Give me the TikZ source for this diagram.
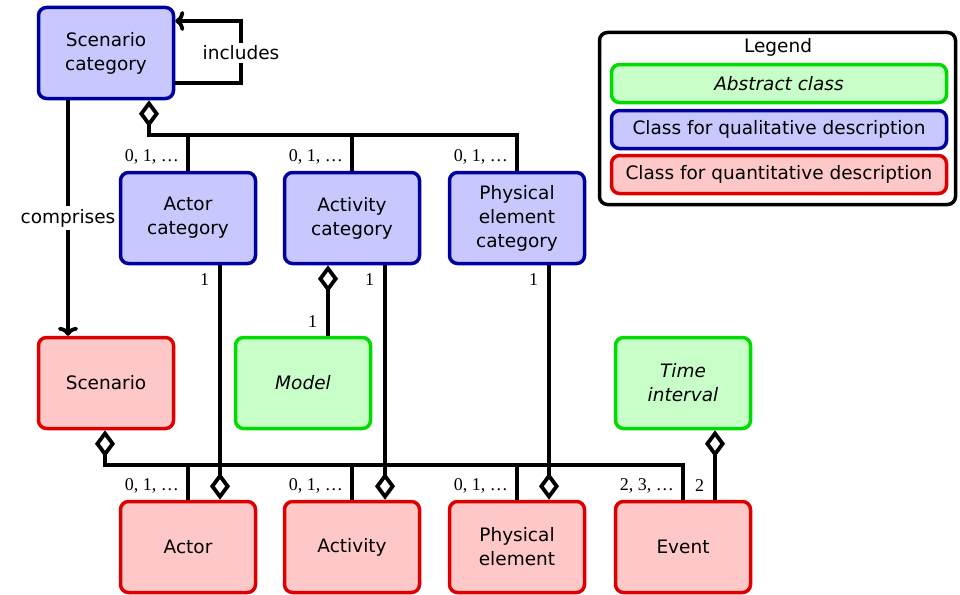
\documentclass[tikz,border=0pt]{standalone}
\usepackage{fontspec}
\setmainfont{DejaVu Sans}
\newfontfamily\multfont{Liberation Serif}
\usepackage{tikz}
\usetikzlibrary{arrows.meta,positioning}
\definecolor{qlblue}{RGB}{200,200,255}
\definecolor{qlborder}{RGB}{0,0,160}
\definecolor{qnred}{RGB}{255,200,200}
\definecolor{qnborder}{RGB}{220,0,0}
\definecolor{absgreen}{RGB}{200,255,200}
\definecolor{absborder}{RGB}{0,220,0}
\tikzset{
  cls/.style={rounded corners=8pt, line width=3.5pt, minimum width=135pt, minimum height=91pt,
    inner sep=0pt, align=center, font=\fontsize{18.5}{24}\selectfont},
  qlclass/.style={cls, draw=qlborder, fill=qlblue},
  qnclass/.style={cls, draw=qnborder, fill=qnred},
  absclass/.style={cls, draw=absborder, fill=absgreen, font=\fontsize{18.5}{24}\selectfont\itshape},
  legitem/.style={rounded corners=8pt, line width=3.5pt, minimum width=335pt, minimum height=38pt,
    inner sep=0pt, font=\fontsize{18.5}{24}\selectfont},
  conn/.style={line width=3.8pt},
  aggr/.style={conn, -{Diamond[open, length=27pt, width=20pt]}},
  assoc/.style={conn, -{Computer Modern Rightarrow[length=9pt, width=20pt]}},
  mult/.style={font=\fontsize{18}{18}\selectfont\multfont, inner xsep=9pt, inner ysep=6pt},
  rel/.style={fill=white, inner sep=3pt, font=\fontsize{18.5}{24}\selectfont}
}
\begin{document}
\begin{tikzpicture}[x=1pt, y=-1pt]
\useasboundingbox (0,0) rectangle (960,594);

% Qualitative classes
\node[qlclass] (scencat) at (106,53) {Scenario\\category};
\node[qlclass] (actcat) at (188,218) {Actor\\category};
\node[qlclass] (actvcat) at (352,218) {Activity\\category};
\node[qlclass] (physcat) at (517,218) {Physical\\element\\category};

% Abstract classes
\node[absclass] (model) at (303,383) {Model};
\node[absclass] (timeint) at (683,383) {Time\\interval};

% Quantitative classes
\node[qnclass] (scen) at (106,383) {Scenario};
\node[qnclass] (actor) at (188,547) {Actor};
\node[qnclass] (activity) at (352,547) {Activity};
\node[qnclass] (physel) at (517,547) {Physical\\element};
\node[qnclass] (event) at (683,547) {Event};

% Legend
\node[draw, line width=3.5pt, rounded corners=8pt, minimum width=356pt, minimum height=172pt] (legend) at (777.5,118.5) {};
\node[font=\fontsize{18.5}{24}\selectfont] (legtitle) at (778,47) {Legend};
\node[legitem, draw=absborder, fill=absgreen, font=\fontsize{18.5}{24}\selectfont\itshape] (legabs) at (779,83.5) {Abstract class};
\node[legitem, draw=qlborder, fill=qlblue] (legql) at (779,129.5) {Class for qualitative description};
\node[legitem, draw=qnborder, fill=qnred] (legqn) at (779,174.5) {Class for quantitative description};

% Scenario category includes itself
\coordinate (incl) at (241,53);
\draw[assoc] ([yshift=-30pt]scencat.east) -| (incl) |- ([yshift=32pt]scencat.east);
\node[rel] (incllbl) at (incl) {includes};

% Scenario category comprises scenario
\draw[assoc] ([xshift=-38pt]scencat.south) -- ([xshift=-38pt]scen.north)
  node[rel, pos=0.5] (complbl) {comprises};

% Scenario category aggregates the categories
\coordinate (cathub) at (149,135);
\draw[aggr] (physcat.north) |- (cathub) -- (scencat.south -| cathub);
\draw[conn] (actcat.north) -- (actcat.north |- cathub);
\draw[conn] (actvcat.north) -- (actvcat.north |- cathub);
\node[mult, anchor=south east] at (actcat.north) {0, 1, …};
\node[mult, anchor=south east] at (actvcat.north) {0, 1, …};
\node[mult, anchor=south east] at (physcat.north) {0, 1, …};

% Activity category has a model
\draw[aggr] ([xshift=25pt]model.north) -- ([xshift=-24pt]actvcat.south)
  node[mult, pos=0, anchor=south east] {1};

% Categories aggregate their instances
\draw[aggr] ([xshift=32pt]actcat.south) -- ([xshift=32pt]actor.north)
  node[mult, pos=0, anchor=north east] {1};
\draw[aggr] ([xshift=33pt]actvcat.south) -- ([xshift=33pt]activity.north)
  node[mult, pos=0, anchor=north east] {1};
\draw[aggr] ([xshift=32pt]physcat.south) -- ([xshift=32pt]physel.north)
  node[mult, pos=0, anchor=north east] {1};

% Scenario aggregates actors, activities, physical elements and events
\coordinate (scenhub) at (105,465);
\draw[aggr] (event.north) |- (scenhub) -- (scen.south -| scenhub);
\draw[conn] (actor.north) -- (actor.north |- scenhub);
\draw[conn] (activity.north) -- (activity.north |- scenhub);
\draw[conn] (physel.north) -- (physel.north |- scenhub);
\node[mult, anchor=south east] at (actor.north) {0, 1, …};
\node[mult, anchor=south east] at (activity.north) {0, 1, …};
\node[mult, anchor=south east] at (physel.north) {0, 1, …};
\node[mult, anchor=south east] at (event.north) {2, 3, …};

% Event has two time intervals
\draw[aggr] ([xshift=32pt]event.north) -- ([xshift=32pt]timeint.south)
  node[mult, pos=0, anchor=south east] {2};
\end{tikzpicture}
\end{document}
